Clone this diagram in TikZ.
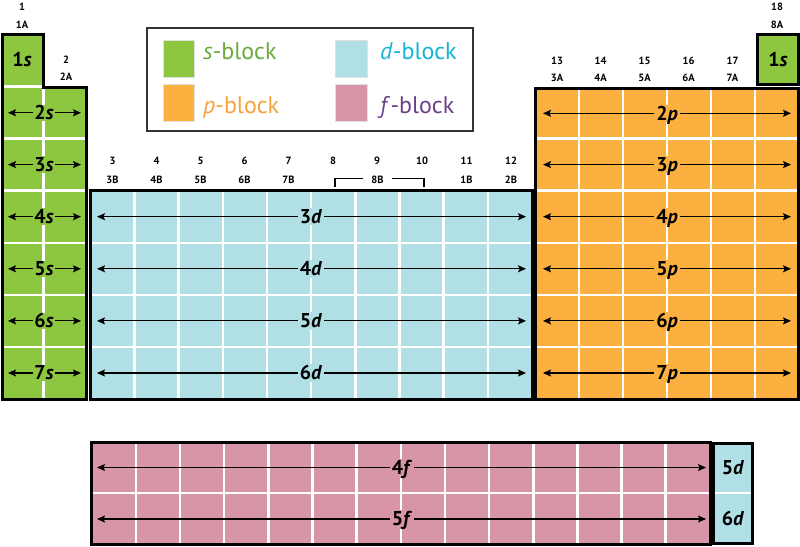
\documentclass[tikz,border=0pt]{standalone}
\usepackage{fontspec}
\setmainfont{PT Sans}
\usetikzlibrary{arrows.meta}
\definecolor{sgreen}{HTML}{8DC63F}
\definecolor{porange}{HTML}{FBB040}
\definecolor{dblue}{HTML}{B0DFE5}
\definecolor{fpink}{HTML}{D895A8}
\definecolor{stext}{HTML}{6AAB3C}
\definecolor{ptext}{HTML}{F7A23A}
\definecolor{dtext}{HTML}{14B4D8}
\definecolor{ftext}{HTML}{6B4089}
\definecolor{legframe}{HTML}{333333}
\tikzset{
  outline/.style={draw=black, line width=3pt, line join=miter},
  gridline/.style={draw=white, line width=2.6pt},
  orb/.style={font=\fontsize{20}{20}\selectfont\bfseries, inner sep=2pt, text height=13.5pt, text depth=0pt},
  grp/.style={font=\fontsize{10.5}{10.5}\selectfont\bfseries, inner sep=0pt},
  arr/.style={line width=1.1pt, -{Stealth[length=8pt,width=7pt,inset=1.5pt]}},
  legtext/.style={font=\fontsize{24}{24}\selectfont, anchor=base west, inner sep=0pt},
  swatch/.style={draw=black!12, line width=0.8pt},
}
\begin{document}
\begin{tikzpicture}[x=1pt,y=-1pt]
\useasboundingbox (0,0) rectangle (800,546);

% ---------------- s-block (left)
\fill[sgreen] (2.3,34) -- (43.5,34) -- (43.5,87.3) -- (86.5,87.3) -- (86.5,399) -- (2.3,399) -- cycle;
\draw[gridline] (43.5,87) -- (43.5,399);
\foreach \y in {86.5,138.6,190.7,242.8,294.9,347} \draw[gridline] (2.3,\y) -- (86.5,\y);
\draw[outline] (2.3,34) -- (43.5,34) -- (43.5,87.3) -- (86.5,87.3) -- (86.5,399) -- (2.3,399) -- cycle;
\node[orb] (s1) at (22,60) {1\textit{s}};
\foreach \n/\y in {2/112.8,3/164.6,4/216.7,5/268.8,6/320.9,7/373}{
  \node[orb, fill=sgreen, inner sep=1.5pt] (s\n) at (44,\y) {\n\textit{s}};
  \coordinate (s\n L) at (8,\y);
  \coordinate (s\n R) at (81,\y);
  \draw[arr] (s\n) -- (s\n L);
  \draw[arr] (s\n) -- (s\n R);
}

% ---------------- s-block (right, 1s)
\fill[sgreen] (757.5,34) rectangle (798.3,84.5);
\draw[outline] (757.5,34) rectangle (798.3,84.5);
\node[orb] (s1b) at (778,60) {1\textit{s}};

% ---------------- p-block
\fill[porange] (535,88) rectangle (798.3,399);
\foreach \i in {1,...,5} \draw[gridline] (535+44*\i,88) -- (535+44*\i,399);
\foreach \y in {138.6,190.7,242.8,294.9,347} \draw[gridline] (535,\y) -- (798.3,\y);
\draw[outline] (535,88) rectangle (798.3,399);
\foreach \n/\y in {2/113.3,3/164.6,4/216.7,5/268.8,6/320.9,7/373}{
  \node[orb, fill=porange] (p\n) at (667,\y) {\n\textit{p}};
  \coordinate (p\n L) at (543,\y);
  \coordinate (p\n R) at (791,\y);
  \draw[arr] (p\n) -- (p\n L);
  \draw[arr] (p\n) -- (p\n R);
}

% ---------------- d-block
\fill[dblue] (90.3,190.7) rectangle (532,399);
\foreach \i in {1,...,9} \draw[gridline] (90.3+44.17*\i,190.7) -- (90.3+44.17*\i,399);
\foreach \y in {242.8,294.9,347} \draw[gridline] (90.3,\y) -- (532,\y);
\draw[outline] (90.3,190.7) rectangle (532,399);
\foreach \n/\y in {3/216.7,4/268.8,5/320.9,6/373}{
  \node[orb, fill=dblue] (d\n) at (311,\y) {\n\textit{d}};
  \coordinate (d\n L) at (97,\y);
  \coordinate (d\n R) at (526,\y);
  \draw[arr] (d\n) -- (d\n L);
  \draw[arr] (d\n) -- (d\n R);
}

% ---------------- f-block
\fill[fpink] (91.7,442) rectangle (710,544);
\foreach \i in {1,...,13} \draw[gridline] (91.7+44.16*\i,442) -- (91.7+44.16*\i,544);
\draw[gridline] (91.7,493) -- (710,493);
\draw[outline] (91.7,442) rectangle (710,544);
\foreach \n/\y in {4/467.5,5/519}{
  \node[orb, fill=fpink] (f\n) at (402,\y) {\n\textit{f}};
  \coordinate (f\n L) at (97,\y);
  \coordinate (f\n R) at (706,\y);
  \draw[arr] (f\n) -- (f\n L);
  \draw[arr] (f\n) -- (f\n R);
}

% ---------------- 5d / 6d box
\fill[dblue] (713.5,443.5) rectangle (752.7,543.5);
\draw[gridline] (713.5,493) -- (752.7,493);
\draw[outline] (713.5,443.5) rectangle (752.7,543.5);
\node[orb] (d5b) at (733,467.5) {5\textit{d}};
\node[orb] (d6b) at (733,519) {6\textit{d}};

% ---------------- group labels
\node[grp] (g1) at (22,7) {1};
\node[grp] (g1A) at (22,25) {1A};
\node[grp] (g2) at (66,60) {2};
\node[grp] (g2A) at (66,77) {2A};
\foreach \n/\lab/\x in {13/3A/557,14/4A/600.5,15/5A/644.5,16/6A/688.5,17/7A/732.5}{
  \node[grp] (g\n) at (\x,61) {\n};
  \node[grp] (g\lab) at (\x,78) {\lab};
}
\node[grp] (g18) at (777,7) {18};
\node[grp] (g8A) at (777,25) {8A};
\foreach \n/\x in {3/112.5,4/156.5,5/200.5,6/244.5,7/288.5,8/333,9/377,10/422,11/466.5,12/511}{
  \node[grp] (g\n) at (\x,161) {\n};
}
\foreach \lab/\x in {3B/112.5,4B/156.5,5B/200.5,6B/244.5,7B/288.5,1B/466.5,2B/511}{
  \node[grp] (g\lab) at (\x,180) {\lab};
}
\node[grp] (g8B) at (377.5,180) {8B};
\draw[line width=1.3pt] (335,186.5) -- (335,178.5) -- (363,178.5);
\draw[line width=1.3pt] (392,178.5) -- (424,178.5) -- (424,186.5);

% ---------------- legend
\draw[draw=legframe, line width=1.5pt] (147,28) rectangle (473,131);
\fill[sgreen] (163,40) rectangle (194,77);
\draw[swatch] (163,40) rectangle (194,77);
\fill[porange] (163,84) rectangle (194,121);
\draw[swatch] (163,84) rectangle (194,121);
\fill[dblue] (335,40) rectangle (367,77);
\draw[swatch] (335,40) rectangle (367,77);
\fill[fpink] (335,84) rectangle (367,121);
\draw[swatch] (335,84) rectangle (367,121);
\node[legtext, text=stext] (ls) at (203,59.5) {\textit{s}-block};
\node[legtext, text=ptext] (lp) at (203,113) {\textit{p}-block};
\node[legtext, text=dtext] (ld) at (380,59.5) {\textit{d}-block};
\node[legtext, text=ftext] (lf) at (380,113) {\textit{f}-block};
\end{tikzpicture}
\end{document}
